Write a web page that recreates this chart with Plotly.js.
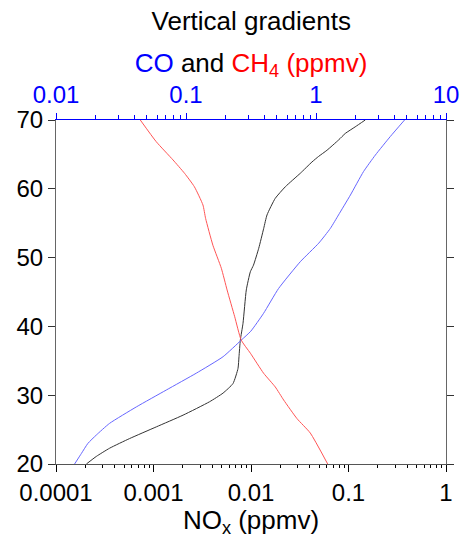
<!DOCTYPE html>
<html>
<head>
<meta charset="utf-8">
<script src="https://cdn.plot.ly/plotly-3.0.1.min.js"></script>
<style>html,body{margin:0;padding:0;background:#fff;}#chart{width:461px;height:538px;}</style>
</head>
<body>
<div id="chart"></div>
<script>
// Altitude (km) and mixing ratios
const noxAlt = [20, 21.1, 22.3, 23.7, 25.4, 27.1, 29.05, 30.3, 31.7, 33.9, 35.6, 38.0, 40.45, 45.3, 47.95, 48.9, 51.35, 54.25, 56.2, 58.6, 60.3, 62.25, 63.9, 64.7, 65.6, 67.1, 68.05, 69.0, 70];
const noxVal = [0.000205, 0.000259, 0.000355, 0.000569, 0.00107, 0.00201, 0.00376, 0.00516, 0.00654, 0.00736, 0.00753, 0.00777, 0.00828, 0.00895, 0.00985, 0.0106, 0.0120, 0.0135, 0.0146, 0.0177, 0.0225, 0.032, 0.0422, 0.0493, 0.0601, 0.0792, 0.0927, 0.117, 0.1485];

const coAlt = [20, 21.55, 23.0, 24.2, 25.9, 28.3, 30.75, 33.2, 35.6, 38.0, 39.3, 41.9, 45.5, 49.4, 52.1, 54.25, 56.2, 59.1, 62.5, 64.9, 67.6, 70];
const coVal = [0.0139, 0.0157, 0.0176, 0.0204, 0.0258, 0.0415, 0.0705, 0.12, 0.193, 0.266, 0.315, 0.395, 0.515, 0.757, 1.05, 1.29, 1.49, 1.84, 2.32, 2.86, 3.73, 4.8];

const ch4Alt = [20, 24.5, 26.6, 29.3, 31.2, 33.2, 36.1, 38.0, 41.4, 45.3, 48.45, 51.8, 55.7, 57.65, 60.3, 62.25, 64.2, 66.85, 70];
const ch4Val = [1.23, 0.904, 0.714, 0.564, 0.486, 0.395, 0.313, 0.266, 0.237, 0.207, 0.187, 0.161, 0.1415, 0.135, 0.116, 0.0975, 0.0794, 0.059, 0.0445];

const bottomTicks = [0.0001, 0.001, 0.01, 0.1, 1];
const bottomLabels = ['0.0001', '0.001', '0.01', '0.1', '1'];
const topTicks = [0.01, 0.1, 1, 10];
const topLabels = ['0.01', '0.1', '1', '10'];
const altTicks = [20, 30, 40, 50, 60, 70];

// minor log ticks (2..9 in each decade) between the major ticks
function minorLog(majors) {
  const out = [];
  for (let i = 0; i < majors.length - 1; i++) {
    for (let k = 2; k <= 9; k++) out.push(majors[i] * k);
  }
  return out;
}

const FONT = 'Liberation Sans, Arial, Helvetica, sans-serif';
const TICK = 24;
const TITLE = 26;

const traces = [
  {x: noxVal, y: noxAlt, xaxis: 'x', yaxis: 'y', mode: 'lines',
   line: {color: '#333333', width: 1, shape: 'spline', smoothing: 0.5}, hoverinfo: 'skip'},
  {x: coVal, y: coAlt, xaxis: 'x2', yaxis: 'y', mode: 'lines',
   line: {color: '#6666ff', width: 1, shape: 'spline', smoothing: 0.5}, hoverinfo: 'skip'},
  {x: ch4Val, y: ch4Alt, xaxis: 'x2', yaxis: 'y', mode: 'lines',
   line: {color: '#ff5555', width: 1, shape: 'spline', smoothing: 0.5}, hoverinfo: 'skip'}
];

const layout = {
  width: 461, height: 538,
  margin: {l: 56, r: 15, t: 120, b: 74},
  paper_bgcolor: '#fff', plot_bgcolor: '#fff',
  showlegend: false,
  font: {family: FONT, size: TICK, color: '#000'},
  title: {text: 'Vertical gradients', x: 0.545, xanchor: 'center', y: 1 - 21 / 538, yanchor: 'middle', yref: 'container',
          font: {family: FONT, size: TITLE, color: '#000'}},
  xaxis: {
    type: 'log', range: [-4, 0], tickmode: 'array', tickvals: bottomTicks, ticktext: bottomLabels,
    ticks: 'outside', ticklen: 7, tickcolor: '#000', tickwidth: 1,
    showline: true, linecolor: '#555', linewidth: 1, showgrid: false, zeroline: false,
    tickfont: {family: FONT, size: TICK, color: '#000'},
    minor: {tickmode: 'array', tickvals: minorLog(bottomTicks), ticks: 'outside', ticklen: 3, tickcolor: '#000', showgrid: false},
    title: {text: 'NO<sub>x</sub> (ppmv)', font: {family: FONT, size: TITLE, color: '#000'}, standoff: 3}
  },
  xaxis2: {
    type: 'log', range: [-2, 1], overlaying: 'x', side: 'top', anchor: 'y',
    tickmode: 'array', tickvals: topTicks, ticktext: topLabels,
    ticks: 'outside', ticklen: 6, tickcolor: '#0000ff', tickwidth: 1,
    showline: true, linecolor: '#0000ff', linewidth: 1, showgrid: false, zeroline: false,
    tickfont: {family: FONT, size: TICK, color: '#0000ff'},
    minor: {tickmode: 'array', tickvals: minorLog(topTicks), ticks: 'outside', ticklen: 4, tickcolor: '#0000ff', showgrid: false},
    title: {text: '<span style="color:#0000ff">CO</span> and <span style="color:#ff0000">CH<sub>4</sub> (ppmv)</span>',
            font: {family: FONT, size: TITLE, color: '#000'}, standoff: 0}
  },
  yaxis: {
    range: [20, 70], tickmode: 'array', tickvals: altTicks, ticks: 'outside', ticklen: 7, tickcolor: '#333',
    showline: true, linecolor: '#666', linewidth: 1, mirror: 'ticks',
    showgrid: false, zeroline: false,
    tickfont: {family: FONT, size: TICK, color: '#000'}
  }
};

Plotly.newPlot('chart', traces, layout, {staticPlot: true, displayModeBar: false});
</script>
</body>
</html>
